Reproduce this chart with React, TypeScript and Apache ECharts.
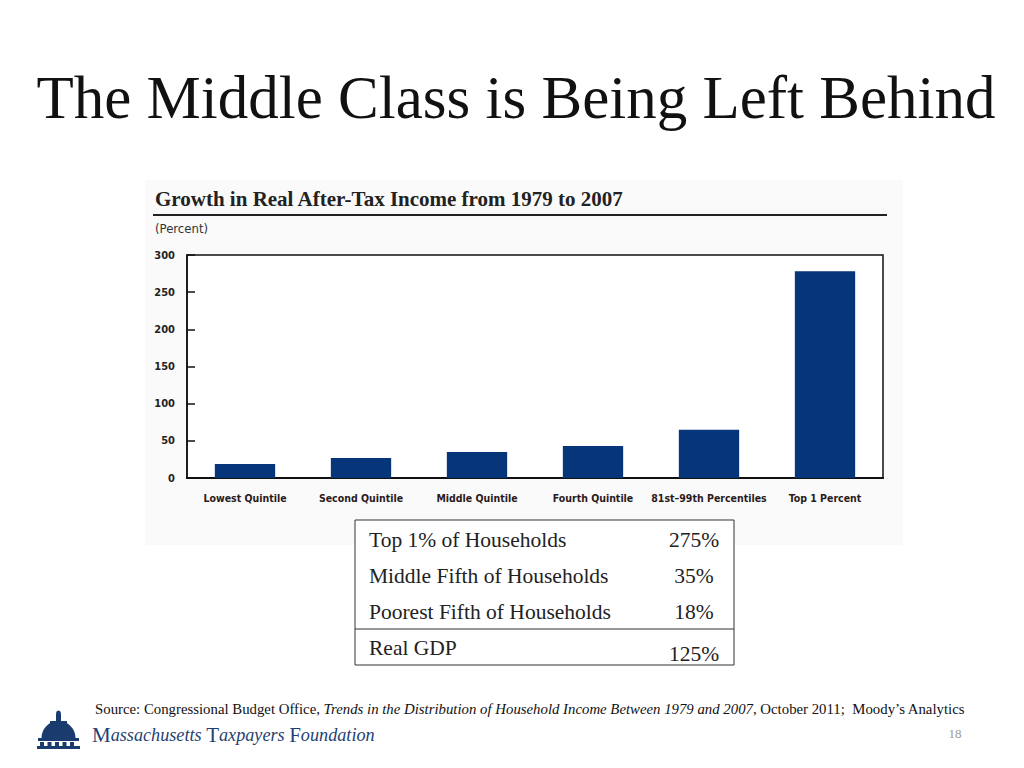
import React, { useEffect, useRef } from "react";
import * as echarts from "echarts";

const categories = [
  "Lowest Quintile",
  "Second Quintile",
  "Middle Quintile",
  "Fourth Quintile",
  "81st\u201399th Percentiles",
  "Top 1 Percent",
];
const growthValues = [19, 27, 35, 43, 65, 278];
const yTicks = { min: 0, max: 300, interval: 50 };

const tableRows = [
  { label: "Top 1% of Households", value: "275%" },
  { label: "Middle Fifth of Households", value: "35%" },
  { label: "Poorest Fifth of Households", value: "18%" },
];
const gdpRow = { label: "Real GDP", value: "125%" };

const pageTitle = "The Middle Class is Being Left Behind";
const chartTitle = "Growth in Real After-Tax Income from 1979 to 2007";
const unitLabel = "(Percent)";
const pageNumber = "18";

const SERIF = "'Liberation Serif', 'DejaVu Serif', serif";
const NARROW = "'Liberation Sans Narrow', 'DejaVu Sans Condensed', 'Liberation Sans', sans-serif";

export default function App() {
  const ref = useRef<HTMLDivElement>(null);

  useEffect(() => {
    document.body.style.margin = "0";
    const chart = echarts.init(ref.current!, null, { renderer: "svg" });

    const tableLeft = 355;
    const tableTop = 520;
    const tableW = 379;
    const tableH = 145;
    const rowY = [540, 576, 612];
    const tFont = `normal 21.5px ${SERIF}`;

    const graphics: any[] = [
      { type: "rect", shape: { x: 145, y: 180, width: 758, height: 365 }, style: { fill: "#fafafa" }, z: -10 },
      {
        type: "text", x: 516, y: 97,
        style: { text: pageTitle, font: `normal 61px ${SERIF}`, fill: "#111", align: "center", verticalAlign: "middle" },
      },
      {
        type: "text", x: 155, y: 199,
        style: { text: chartTitle, font: `bold 21px ${SERIF}`, fill: "#222", align: "left", verticalAlign: "middle" },
      },
      { type: "line", shape: { x1: 153, y1: 215, x2: 887, y2: 215 }, style: { stroke: "#222", lineWidth: 2 } },
      {
        type: "text", x: 155, y: 228,
        style: { text: unitLabel, font: `normal 13px ${NARROW}`, fill: "#333", align: "left", verticalAlign: "middle" },
      },
      {
        type: "rect", shape: { x: tableLeft, y: tableTop, width: tableW, height: tableH },
        style: { fill: "#fff", stroke: "#333", lineWidth: 1 },
      },
      { type: "line", shape: { x1: tableLeft, y1: 629, x2: tableLeft + tableW, y2: 629 }, style: { stroke: "#333", lineWidth: 1 } },
      ...tableRows.flatMap((r, i) => [
        {
          type: "text", x: 369, y: rowY[i],
          style: { text: r.label, font: tFont, fill: "#222", align: "left", verticalAlign: "middle" },
        },
        {
          type: "text", x: 694, y: rowY[i],
          style: { text: r.value, font: tFont, fill: "#222", align: "center", verticalAlign: "middle" },
        },
      ]),
      {
        type: "text", x: 369, y: 648,
        style: { text: gdpRow.label, font: tFont, fill: "#222", align: "left", verticalAlign: "middle" },
      },
      {
        type: "text", x: 694, y: 654,
        style: { text: gdpRow.value, font: tFont, fill: "#222", align: "center", verticalAlign: "middle" },
      },
      {
        type: "text", x: 95, y: 709,
        style: {
          text: "{n|Source: Congressional Budget Office, }{i|Trends in the Distribution of Household Income Between 1979 and 2007}{n|, October 2011;  Moody\u2019s Analytics}",
          align: "left", verticalAlign: "middle",
          rich: {
            n: { font: `normal 14.8px ${SERIF}`, fill: "#111" },
            i: { font: `italic 14.8px ${SERIF}`, fill: "#111" },
          },
        },
      },
      {
        type: "group", x: 0, y: 0,
        children: [
          { type: "rect", shape: { x: 56, y: 714, width: 5, height: 8 }, style: { fill: "#1a3b6e" } },
          { type: "circle", shape: { cx: 58.5, cy: 713, r: 2.4 }, style: { fill: "#1a3b6e" } },
          { type: "rect", shape: { x: 50, y: 721, width: 17, height: 3 }, style: { fill: "#1a3b6e" } },
          { type: "sector", shape: { cx: 58.5, cy: 738, r0: 0, r: 17, startAngle: Math.PI, endAngle: Math.PI * 2 }, style: { fill: "#1a3b6e" } },
          { type: "rect", shape: { x: 38, y: 738, width: 41, height: 3 }, style: { fill: "#1a3b6e" } },
          { type: "rect", shape: { x: 40, y: 742, width: 4, height: 5 }, style: { fill: "#1a3b6e" } },
          { type: "rect", shape: { x: 47.5, y: 742, width: 4, height: 5 }, style: { fill: "#1a3b6e" } },
          { type: "rect", shape: { x: 55, y: 742, width: 4, height: 5 }, style: { fill: "#1a3b6e" } },
          { type: "rect", shape: { x: 62.5, y: 742, width: 4, height: 5 }, style: { fill: "#1a3b6e" } },
          { type: "rect", shape: { x: 70, y: 742, width: 4, height: 5 }, style: { fill: "#1a3b6e" } },
          { type: "rect", shape: { x: 37, y: 746, width: 43, height: 3 }, style: { fill: "#1a3b6e" } },
        ],
      },
      {
        type: "text", x: 92, y: 735,
        style: {
          text: "{c|M}{l|assachusetts }{c|T}{l|axpayers }{c|F}{l|oundation}",
          align: "left", verticalAlign: "middle",
          rich: {
            c: { font: `normal 21px ${SERIF}`, fill: "#1f3f73" },
            l: { font: `italic 18.2px ${SERIF}`, fill: "#1f3f73" },
          },
        },
      },
      {
        type: "text", x: 955, y: 733,
        style: { text: pageNumber, font: `normal 13px ${SERIF}`, fill: "#999", align: "center", verticalAlign: "middle" },
      },
    ];

    chart.setOption({
      animation: false,
      backgroundColor: "#ffffff",
      grid: {
        left: 187, right: 141, top: 255, bottom: 290,
        show: true, borderColor: "#111", borderWidth: 1.5, backgroundColor: "#ffffff",
      },
      xAxis: {
        type: "category",
        data: categories,
        axisLine: { show: true, lineStyle: { color: "#111", width: 2 } },
        axisTick: { show: false },
        axisLabel: {
          margin: 14, color: "#2a1a1a", fontWeight: "bold", fontSize: 10.5, fontFamily: NARROW, interval: 0,
        },
        splitLine: { show: false },
      },
      yAxis: {
        type: "value",
        min: yTicks.min, max: yTicks.max, interval: yTicks.interval,
        axisLine: { show: true, lineStyle: { color: "#111", width: 1.5 } },
        axisTick: { show: true, inside: true, length: 8, lineStyle: { color: "#111", width: 1.5 } },
        axisLabel: { margin: 12, color: "#222", fontWeight: "bold", fontSize: 11, fontFamily: NARROW },
        splitLine: { show: false },
      },
      series: [
        {
          type: "bar",
          data: growthValues,
          barWidth: "52%",
          itemStyle: { color: "#06357a" },
        },
      ],
      graphic: graphics,
    });

    return () => chart.dispose();
  }, []);

  return (
    <div
      ref={ref}
      style={{ position: "fixed", left: 0, top: 0, width: 1024, height: 768, background: "#fff" }}
    />
  );
}
